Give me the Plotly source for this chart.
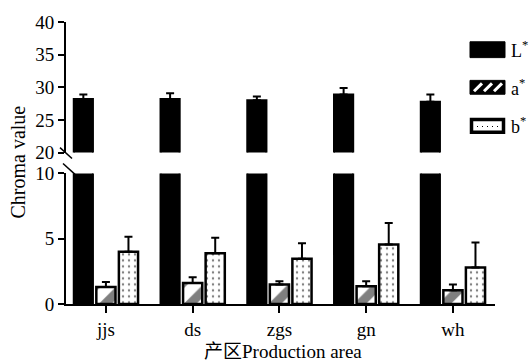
import plotly.graph_objects as go
from plotly.subplots import make_subplots

categories = ["jjs", "ds", "zgs", "gn", "wh"]
L_vals = [28.2, 28.2, 28.0, 28.9, 27.8]
L_err = [0.7, 0.9, 0.6, 1.0, 1.1]
a_vals = [1.3, 1.6, 1.5, 1.36, 1.06]
a_err = [0.38, 0.45, 0.25, 0.38, 0.44]
b_vals = [4.0, 3.88, 3.47, 4.55, 2.8]
b_err = [1.15, 1.2, 1.18, 1.65, 1.9]
y_upper_ticks = [20, 25, 30, 35, 40]
y_lower_ticks = [0, 5, 10]

FONT = "Liberation Serif"

fig = make_subplots(rows=2, cols=1, shared_xaxes=True, vertical_spacing=21/285,
                    row_heights=[0.5, 0.5])

series = [
    ("L*", L_vals, L_err, dict(color="black", line=dict(color="black", width=2))),
    ("a*", a_vals, a_err, dict(color="white", line=dict(color="black", width=2.5),
                               pattern=dict(shape="/", fgcolor="black", bgcolor="white",
                                            size=20, solidity=0.45))),
    ("b*", b_vals, b_err, dict(color="white", line=dict(color="black", width=2.5),
                               pattern=dict(shape=".", fgcolor="black", bgcolor="white",
                                            size=6, solidity=0.12))),
]

for row in (1, 2):
    for name, vals, err, marker in series:
        fig.add_trace(go.Bar(
            x=categories, y=vals, name=name, marker=marker, showlegend=False,
            hoverinfo="skip",
            error_y=dict(type="data", array=err, arrayminus=[0]*len(err), symmetric=False,
                         color="black", thickness=2, width=4),
        ), row=row, col=1)

fig.update_layout(
    width=532, height=363,
    margin=dict(l=66, r=37, t=19, b=59),
    paper_bgcolor="white", plot_bgcolor="white",
    barmode="group", bargap=0.22, bargroupgap=0.15,
    font=dict(family=FONT, size=19, color="black"),
    showlegend=False,
)

fig.update_yaxes(range=[20, 40], tickvals=y_upper_ticks, showgrid=False, zeroline=False,
                 showline=True, linecolor="black", linewidth=2, ticks="outside",
                 ticklen=6, tickwidth=2, tickcolor="black", row=1, col=1)
fig.update_yaxes(range=[0, 10], tickvals=y_lower_ticks, showgrid=False, zeroline=False,
                 showline=True, linecolor="black", linewidth=2, ticks="outside",
                 ticklen=6, tickwidth=2, tickcolor="black", row=2, col=1)
fig.update_xaxes(range=[-0.46, 4.485], showline=False, showticklabels=False, ticks="",
                 showgrid=False, zeroline=False, row=1, col=1)
fig.update_xaxes(range=[-0.46, 4.485], showline=True, linecolor="black", linewidth=2,
                 ticks="outside", ticklen=7, tickwidth=2, tickcolor="black", showgrid=False,
                 zeroline=False, tickfont=dict(size=19), row=2, col=1)

# pixel -> paper helpers
pl, pt = 66, 19
pw, ph = 532 - 66 - 37, 363 - 19 - 59
def px(x):
    return (x - pl) / pw
def py(y):
    return 1 - (y - pt) / ph

# axis break marks
for (x0, y0, x1, y1) in [(60, 146, 72, 157), (63, 162, 75, 173)]:
    fig.add_shape(type="line", xref="paper", yref="paper",
                  x0=px(x0), y0=py(y0), x1=px(x1), y1=py(y1),
                  line=dict(color="black", width=1.5))

# axis titles
fig.add_annotation(text="Chroma value", xref="paper", yref="paper",
                   x=px(18), y=py(161), xanchor="center", yanchor="middle",
                   textangle=-90, showarrow=False, font=dict(family=FONT, size=20))
fig.add_annotation(text="<span style='font-family:Noto Sans CJK SC'>产区</span>Production area",
                   xref="paper", yref="paper", x=px(283), y=py(350),
                   xanchor="center", yanchor="middle", showarrow=False,
                   font=dict(family=FONT, size=19))

# custom legend
leg = [("L", 47), ("a", 85), ("b", 124)]
bx0, bx1 = 470, 505
for i, (lab, yc) in enumerate(leg):
    y0, y1 = yc - 8, yc + 8
    if i == 0:
        fig.add_shape(type="rect", xref="paper", yref="paper", x0=px(bx0), x1=px(bx1),
                      y0=py(y1), y1=py(y0), fillcolor="black", line=dict(color="black", width=1))
    elif i == 1:
        fig.add_shape(type="rect", xref="paper", yref="paper", x0=px(bx0), x1=px(bx1),
                      y0=py(y1 - 1), y1=py(y0 + 1), fillcolor="black", line=dict(color="black", width=1))
        for sx in (478, 488, 498):
            fig.add_shape(type="line", xref="paper", yref="paper",
                          x0=px(sx - 4), y0=py(y1 - 4), x1=px(sx + 4), y1=py(y0 + 4),
                          line=dict(color="white", width=3))
    else:
        fig.add_shape(type="rect", xref="paper", yref="paper", x0=px(bx0 + 1.5), x1=px(bx1 - 1.5),
                      y0=py(y1 - 1.5), y1=py(y0 + 1.5), fillcolor="white",
                      line=dict(color="black", width=3.5))
        for dx in range(477, 500, 5):
            fig.add_shape(type="rect", xref="paper", yref="paper",
                          x0=px(dx), x1=px(dx + 1), y0=py(yc + 1), y1=py(yc),
                          fillcolor="black", line=dict(width=0))
    fig.add_annotation(text=f"{lab}<sup>*</sup>", xref="paper", yref="paper",
                       x=px(509), y=py(yc), xanchor="left", yanchor="middle",
                       showarrow=False, font=dict(family=FONT, size=18))

fig.write_html("out.html", config={"displayModeBar": False},
               post_script="document.body.style.margin='0';document.body.style.overflow='hidden';")
